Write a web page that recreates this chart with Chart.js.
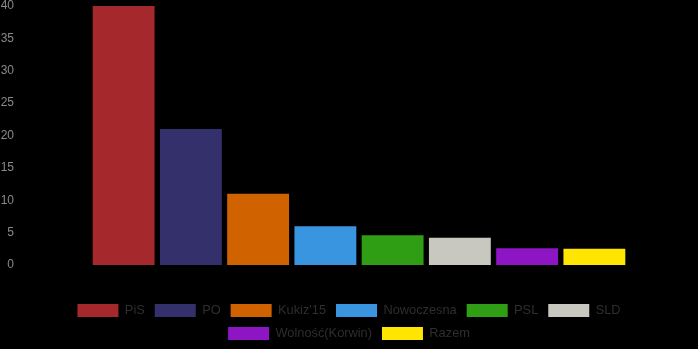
<!DOCTYPE html>
<html>
<head>
<meta charset="utf-8">
<script src="https://cdn.jsdelivr.net/npm/chart.js@4/dist/chart.umd.min.js"></script>
<style>
  html, body { margin: 0; padding: 0; background: #000; }
  #wrap { width: 698px; height: 349px; position: relative; }
</style>
</head>
<body>
<div id="wrap"><canvas id="chart"></canvas></div>
<script>
// seat share per party
const parties = ["PiS", "PO", "Kukiz'15", "Nowoczesna", "PSL", "SLD", "Wolność(Korwin)", "Razem"];
const values = [40, 21, 11, 6, 4.6, 4.2, 2.6, 2.5];
const colors = ["#a5282c", "#34306c", "#d16200", "#3a95e0", "#2f9e14", "#c8c8c0", "#8d15c3", "#ffe600"];
const yTicks = [0, 5, 10, 15, 20, 25, 30, 35, 40];

// one dataset per party so each one gets a legend entry
const datasets = parties.map((name, i) => ({
  label: name,
  data: parties.map((_, j) => (j === i ? values[i] : null)),
  backgroundColor: colors[i],
  borderWidth: 0,
  barPercentage: 0.92,
  categoryPercentage: 1,
  grouped: false
}));

new Chart(document.getElementById("chart"), {
  type: "bar",
  data: { labels: parties, datasets },
  options: {
    responsive: true,
    maintainAspectRatio: false,
    animation: false,
    layout: { padding: { top: 0, right: 0, bottom: -1, left: 0 } },
    plugins: {
      tooltip: { enabled: false },
      legend: {
        position: "bottom",
        labels: {
          color: "#2e2e2e",
          font: { family: "Liberation Sans, Arial, sans-serif", size: 12.8 },
          boxWidth: 41,
          boxHeight: 13,
          padding: 10
        }
      }
    },
    scales: {
      x: {
        grid: { display: false, drawTicks: false },
        border: { display: false },
        ticks: { display: false },
        afterFit: (scale) => { scale.height = 29; }
      },
      y: {
        min: 0,
        max: 40,
        afterBuildTicks: (scale) => { scale.ticks = yTicks.map((v) => ({ value: v })); },
        grid: { display: false, drawTicks: false },
        border: { display: false },
        ticks: {
          color: "#8a8a8a",
          font: { family: "Liberation Sans, Arial, sans-serif", size: 12 },
          padding: 76
        },
        afterFit: (scale) => {
          scale.width = 90;
          scale.paddingTop = 6;
          scale.paddingBottom = 6;
        }
      },
      // empty right axis, only keeps the gap on the right of the bars
      yRight: {
        position: "right",
        grid: { display: false, drawTicks: false },
        border: { display: false },
        ticks: { display: false },
        afterFit: (scale) => { scale.width = 70; }
      }
    }
  }
});
</script>
</body>
</html>
